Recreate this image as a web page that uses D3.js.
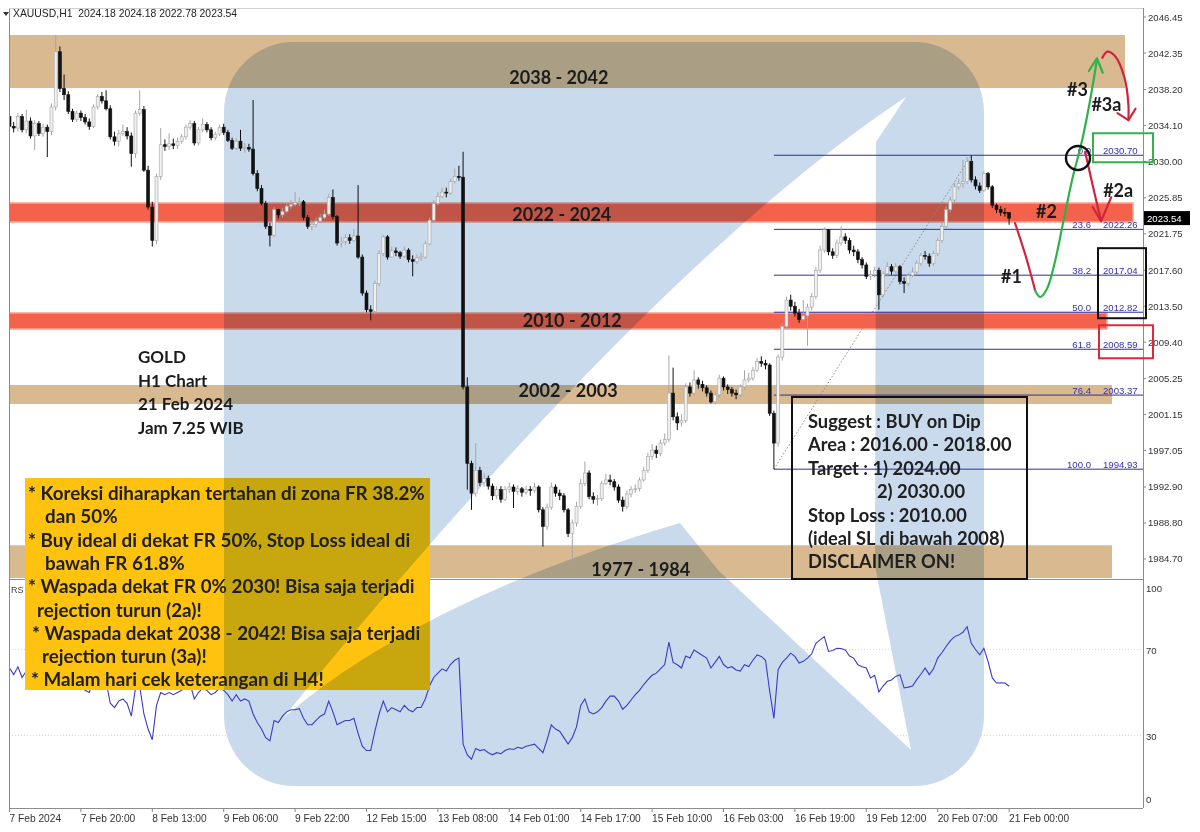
<!DOCTYPE html>
<html>
<head>
<meta charset="utf-8">
<title>XAUUSD H1</title>
<script src="https://cdn.jsdelivr.net/npm/d3@7/dist/d3.min.js"></script>
<style>
  html, body { margin: 0; padding: 0; background: #fff; }
  svg { display: block; }
  text { white-space: pre; }
</style>
</head>
<body>
<svg id="chart" width="1200" height="832"></svg>
<script>
// ---- values (H1 bars, 7 Feb 03:00 .. 21 Feb) ----
const firstOpen = 2035.1;
const closes = [
  2034.0,2033.8,2035.1,2033.6,2034.6,2032.9,2034.3,2033.2,2033.9,2033.4,
  2036.2,2042.5,2038.3,2037.6,2035.7,2034.8,2035.5,2035.0,2034.5,2034.0,
  2036.2,2037.4,2036.9,2036.0,2032.8,2032.3,2033.2,2033.4,2032.9,2030.9,
  2035.5,2035.9,2029.0,2024.8,2021.0,2028.3,2031.9,2031.7,2032.0,2031.8,
  2032.3,2032.8,2033.9,2034.3,2032.1,2033.6,2034.2,2033.6,2032.7,2033.1,
  2033.9,2033.3,2032.4,2031.5,2032.3,2031.5,2031.6,2031.4,2028.6,2026.9,
  2025.2,2022.6,2021.6,2024.5,2023.9,2024.3,2024.9,2025.1,2025.3,2025.4,
  2023.6,2022.6,2022.8,2023.2,2023.6,2024.0,2025.9,2023.7,2020.7,2020.9,
  2021.3,2021.0,2021.5,2019.1,2015.0,2013.1,2012.9,2016.1,2019.5,2021.4,
  2019.1,2019.8,2019.6,2019.2,2019.9,2018.8,2018.6,2019.0,2019.1,2020.6,
  2023.3,2025.2,2026.0,2026.5,2026.4,2027.7,2028.3,2028.2,2004.3,1995.6,
  1992.2,1994.8,1993.4,1993.9,1993.0,1991.9,1992.6,1991.5,1992.6,1992.9,
  1992.4,1992.7,1992.3,1992.6,1992.5,1992.9,1990.3,1988.4,1990.6,1992.9,
  1992.2,1991.9,1990.3,1987.6,1988.8,1990.7,1993.3,1994.5,1991.8,1991.5,
  1991.6,1993.3,1993.7,1993.5,1992.9,1991.4,1990.7,1992.1,1992.6,1992.7,
  1993.7,1994.8,1996.4,1997.1,1996.7,1997.9,1998.3,2003.6,2000.9,2000.2,
  2000.5,2004.3,2003.6,2005.1,2004.6,2004.2,2003.6,2002.6,2003.4,2005.3,
  2004.3,2004.0,2003.6,2003.4,2004.3,2005.1,2005.3,2006.2,2007.2,2007.0,
  2006.8,2001.3,1997.9,2007.7,2011.2,2014.2,2013.5,2012.7,2012.0,2012.4,
  2013.4,2014.6,2017.6,2019.9,2022.2,2019.7,2019.3,2020.7,2021.4,2021.0,
  2019.9,2019.7,2018.8,2018.2,2016.9,2017.1,2017.6,2014.8,2017.2,2018.0,
  2017.5,2018.0,2016.3,2016.1,2017.0,2017.4,2018.4,2019.3,2019.2,2018.4,
  2019.5,2021.0,2022.6,2024.5,2025.6,2027.1,2027.5,2027.7,2030.0,2027.9,
  2027.2,2026.7,2028.6,2027.1,2025.0,2024.5,2024.2,2024.18,2023.54
];
const highs = [
  2035.4,2034.5,2035.5,2035.4,2035.9,2035.0,2034.7,2034.6,2034.3,2034.2,
  2036.6,2044.4,2043.1,2039.9,2038.0,2036.0,2035.8,2035.8,2035.4,2034.9,
  2036.5,2037.7,2037.9,2038.1,2036.4,2033.4,2033.6,2034.2,2033.9,2033.3,
  2035.8,2038.1,2036.3,2029.5,2025.4,2028.6,2033.8,2032.5,2033.2,2032.6,
  2032.7,2033.1,2034.2,2034.7,2034.6,2033.9,2034.9,2034.5,2033.9,2033.4,
  2034.2,2034.3,2033.6,2032.7,2032.6,2033.6,2032.1,2032.0,2037.0,2029.0,
  2027.3,2025.5,2023.0,2024.8,2024.6,2024.7,2025.3,2025.6,2026.5,2025.9,
  2025.6,2023.9,2023.3,2023.6,2024.0,2024.5,2026.3,2026.8,2023.9,2021.4,
  2021.7,2021.7,2022.3,2027.3,2019.4,2015.3,2013.6,2016.4,2019.9,2021.6,
  2021.6,2020.3,2020.2,2019.8,2020.3,2020.1,2019.3,2019.4,2019.6,2020.9,
  2023.6,2025.6,2026.5,2027.0,2027.0,2028.0,2029.2,2029.5,2031.1,2005.4,
  1995.9,1997.9,1995.2,1994.5,1994.2,1993.3,1993.0,1993.0,1993.0,1993.4,
  1993.2,1993.1,1992.9,1993.0,1993.0,1993.4,1993.1,1990.6,1991.0,1993.4,
  1993.2,1992.6,1992.2,1990.5,1989.2,1991.2,1993.8,1995.8,1994.8,1992.3,
  1992.0,1993.6,1994.4,1994.3,1993.8,1993.2,1991.8,1992.5,1993.0,1993.2,
  1994.0,1995.2,1996.8,1997.8,1997.6,1998.3,1999.0,2007.9,2006.5,2001.4,
  2001.2,2004.7,2004.8,2006.2,2005.4,2005.0,2004.5,2003.9,2003.8,2005.7,
  2005.5,2004.6,2004.3,2004.0,2004.6,2006.2,2005.9,2006.6,2007.6,2007.8,
  2007.4,2007.0,2001.6,2008.0,2011.6,2014.6,2014.8,2014.0,2013.2,2014.2,
  2013.8,2015.0,2018.0,2020.4,2022.5,2022.3,2020.1,2021.1,2022.6,2021.8,
  2021.3,2020.4,2020.0,2019.1,2018.5,2017.6,2018.0,2017.9,2017.5,2018.5,
  2018.3,2018.4,2018.2,2016.8,2017.3,2017.9,2018.7,2019.6,2019.8,2019.5,
  2019.8,2021.3,2023.0,2024.9,2026.0,2027.5,2028.0,2030.2,2030.5,2030.7,
  2028.3,2027.6,2028.9,2028.8,2027.3,2025.2,2024.9,2024.7,2024.18
];
const lows = [
  2033.7,2033.3,2033.4,2033.3,2033.2,2032.6,2031.3,2032.9,2032.8,2030.5,
  2033.0,2035.8,2037.9,2037.0,2035.4,2034.5,2034.5,2034.6,2034.2,2033.6,
  2033.8,2035.9,2036.6,2035.8,2032.5,2031.8,2031.7,2032.9,2032.5,2029.4,
  2030.4,2035.2,2028.8,2024.5,2020.3,2020.6,2027.9,2031.2,2031.3,2031.4,
  2031.4,2032.0,2032.5,2033.6,2031.8,2031.8,2033.3,2033.3,2032.4,2032.4,
  2032.9,2033.0,2032.2,2031.3,2031.3,2031.2,2031.0,2031.1,2028.4,2026.6,
  2025.0,2022.3,2020.3,2021.4,2023.5,2023.6,2024.1,2024.6,2024.9,2024.9,
  2023.3,2022.3,2022.1,2022.5,2023.0,2023.4,2023.8,2023.4,2020.4,2020.2,
  2020.5,2020.6,2020.8,2018.9,2014.7,2012.8,2011.9,2012.6,2015.8,2019.2,
  2018.8,2019.0,2019.2,2018.9,2019.0,2018.5,2016.9,2018.3,2018.7,2018.9,
  2020.4,2023.0,2025.0,2025.8,2025.9,2026.2,2027.5,2027.8,2004.0,1992.6,
  1990.3,1991.8,1993.0,1992.9,1992.6,1991.4,1991.5,1991.1,1991.3,1992.2,
  1990.5,1992.0,1991.8,1992.0,1991.9,1992.2,1990.0,1986.1,1988.0,1990.3,
  1991.8,1991.4,1990.0,1987.2,1984.4,1988.4,1990.4,1993.0,1991.5,1991.0,
  1990.8,1991.3,1993.1,1993.1,1992.5,1991.1,1990.1,1990.4,1991.7,1992.2,
  1992.4,1993.5,1994.5,1996.0,1996.2,1996.4,1997.6,1998.0,2000.5,1999.4,
  1999.8,2000.2,2003.2,2003.3,2004.1,2003.8,2003.2,2002.4,2002.3,2003.1,
  2003.9,2003.5,2003.2,2002.9,2003.1,2004.0,2004.8,2005.0,2006.0,2006.6,
  2006.3,2001.0,1994.93,1997.5,2007.3,2010.9,2013.0,2012.3,2011.6,2011.8,
  2009.0,2013.0,2014.3,2017.3,2019.6,2019.3,2018.9,2019.0,2020.4,2020.6,
  2019.5,2019.2,2018.4,2017.8,2016.6,2016.5,2016.8,2013.1,2014.5,2016.9,
  2017.1,2017.2,2016.0,2015.0,2015.8,2016.8,2017.1,2018.1,2018.8,2018.0,
  2018.1,2019.2,2020.7,2022.3,2024.2,2025.3,2026.8,2027.0,2027.4,2027.6,
  2026.8,2026.4,2026.5,2026.8,2024.7,2024.1,2023.8,2023.7,2022.78
];
const rsi = [
  61.4,58.3,62,57,60,54,58,55,57,55,
  64,74,62,59,55,53,55,53,51,50,
  56,58,57,55,45,43,46,47,45,39,
  52,53,40,33,28,44,50,49,50,49,
  50,51,53,54,47,50,52,51,49,50,
  52,51,49,46,49,46,47,46,40,36,
  33,29,27.5,37,36,39,41,42,42,42.5,
  38,35,35,37,39,40,46,41,35,36,
  37,37,38,31,25,23,23,32,40,46,
  41,43,42,41,44,42,41,43,43,47,
  53,57,59,61,60,63,65,66,26,21,
  19,24,23,23.5,22,21,22,21.5,23,23.8,
  23.5,24.5,24,25,25.5,26,24,22,28,35,
  33,32,29,26,29,34,44,47,41,40,
  41,43,46,48.3,48.3,46,42.2,44,46.5,49,
  51,53.7,56,58,59,61,63,73.4,64,62.9,
  61.4,67,66,69.8,68.5,67.2,66,61.4,64,66.8,
  63,61.4,62,60.5,60,62.9,62.1,65,67.5,66.8,
  65,50.6,38,60.6,64,66,68.3,66.8,63.7,64.5,
  66,68,72.9,74.5,76,69.1,69.5,70.6,70.5,69.8,
  67,66,62.9,62,61.4,56.8,58,50.3,53,55.2,
  55.8,57.5,58.3,52.1,52.5,53,56,58.5,61.4,58.3,
  61,66,68.5,71.4,74,76,76.7,78,80.6,72.9,
  70,67.5,70.6,64.4,56.8,54.4,54.5,54.4,52.9
];

const timeLabels = ["7 Feb 2024","7 Feb 20:00","8 Feb 13:00","9 Feb 06:00","9 Feb 22:00",
  "12 Feb 15:00","13 Feb 08:00","14 Feb 01:00","14 Feb 17:00","15 Feb 10:00",
  "16 Feb 03:00","16 Feb 19:00","19 Feb 12:00","20 Feb 07:00","21 Feb 00:00"];
const timeLabelBars = [0,17,34,51,68,85,102,119,136,153,170,187,204,221,238];
const priceTicks = [2046.45,2042.35,2038.20,2034.10,2030.00,2025.85,2021.75,2017.60,
  2013.50,2009.40,2005.25,2001.15,1997.05,1992.90,1988.80,1984.70];
const rsiTicks = [100, 70, 30, 0];

const zoneNames  = ["2038 - 2042","2022 - 2024","2010 - 2012","2002 - 2003","1977 - 1984"];
const zoneTop    = [2044.40, 2025.26, 2012.73, 2004.52, 1986.26];
const zoneBottom = [2038.36, 2023.10, 2010.90, 2002.36, 1982.53];
const zoneEndBar = [265.6, 267.5, 261.3, 262.5, 262.5];
const zoneKind   = ["tan","red","red","tan","tan"];
const zoneLabelBar = [130.8, 131.5, 134, 133, 150.3];
const zoneLabelPrice = [2038.82, 2023.21, 2011.13, 2003.16, 1982.80];

const fibHigh = 2030.70, fibLow = 1994.93;
const fibLevels = [0, 23.6, 38.2, 50, 61.8, 76.4, 100];
const fibStartBar = 182, fibEndBar = 229;

const chartInfo = ["GOLD","H1 Chart","21 Feb 2024","Jam 7.25 WIB"];
const notes = ["* Koreksi diharapkan tertahan di zona FR 38.2%","dan 50%",
  "* Buy ideal di dekat FR 50%, Stop Loss ideal di","bawah FR 61.8%",
  "* Waspada dekat FR 0% 2030! Bisa saja terjadi","rejection turun (2a)!",
  "* Waspada dekat 2038 - 2042! Bisa saja terjadi","rejection turun (3a)!",
  "* Malam hari cek keterangan di H4!"];
const noteIndent = [3, 20, 3, 20, 3, 12, 7, 17, 6];
const suggest = ["Suggest : BUY on Dip","Area : 2016.00 - 2018.00","Target : 1) 2024.00",
  "2) 2030.00","Stop Loss : 2010.00","(ideal SL di bawah 2008)","DISCLAIMER ON!"];

// hand drawn scenario paths, in [bar, price]
const pathDown1 = [[239.4,2022.98],[241.9,2019.3],[244.2,2015.3]];
const pathUp3 = [[244.2,2015.3],[245.4,2014.55],[247.0,2015.46],[248.9,2018.54],[250.8,2022.87],
  [253.0,2027.88],[255.4,2032.44],[257.3,2037.0],[258.9,2041.55]];
const pathDown2a = [[256.1,2031.1],[257.6,2027.9],[259.9,2023.2]];
const pathDown3a = [[260.2,2041.8],[261.4,2042.5],[263.2,2042.0],[265.5,2039.5],[266.4,2036.5],[266.4,2034.7]];

// ---- scales ----
const svg = d3.select("#chart");
const L = 9, R = 1143, pTop = 8, pBot = 578, rTop = 580, rBot = 808;
const x = d3.scaleLinear().domain([0, 100]).range([9.5, 429.5]);
const y = d3.scaleLinear().domain([1982.53, 2047.48]).range([pBot, pTop]);
const yr = d3.scaleLinear().domain([0, 100]).range([800, 585]);

const candles = closes.map((c, i) => ({
  i, o: i === 0 ? firstOpen : closes[i - 1], h: highs[i], l: lows[i], c
}));

const defs = svg.append("defs");
defs.append("clipPath").attr("id", "pclip").append("rect")
  .attr("x", L).attr("y", pTop).attr("width", R - L).attr("height", pBot - pTop);
defs.append("clipPath").attr("id", "rclip").append("rect")
  .attr("x", L).attr("y", rTop).attr("width", R - L).attr("height", rBot - rTop);

svg.append("rect").attr("width", 1200).attr("height", 832).attr("fill", "#fff");

// watermark logo behind the chart
function watermark(g) {
  g.append("rect").attr("x", 224).attr("y", 42).attr("width", 760).attr("height", 744)
    .attr("rx", 70).attr("fill", "#c8daec");
  g.append("path")
    .attr("d", "M283,718 Q658,260 906,97 L876,142 L875,566 L911,750 L718,570 L680,523 Q420,600 283,718 Z")
    .attr("fill", "#fff");
}
watermark(svg.append("g"));

// RSI levels
svg.append("g").selectAll("line").data([70, 30]).join("line")
  .attr("x1", L).attr("x2", R).attr("y1", d => yr(d)).attr("y2", d => yr(d))
  .attr("stroke", "#d8d8d8").attr("stroke-dasharray", "1,2");

// support / resistance zones
const zoneFill = { tan: "#d9b98f", red: "#f5624c" };
const zg = svg.append("g").attr("clip-path", "url(#pclip)").style("mix-blend-mode", "multiply");
zoneNames.forEach((n, k) => {
  zg.append("rect")
    .attr("x", L).attr("width", x(zoneEndBar[k]) - L)
    .attr("y", y(zoneTop[k])).attr("height", y(zoneBottom[k]) - y(zoneTop[k]))
    .attr("fill", zoneFill[zoneKind[k]])
    .attr("stroke", zoneKind[k] === "red" ? "#f9a392" : "none").attr("stroke-width", 1.5);
});

// fibonacci
const fibPrice = lv => fibHigh - (fibHigh - fibLow) * lv / 100;
const fg = svg.append("g").attr("clip-path", "url(#pclip)");
fg.append("line")
  .attr("x1", x(fibStartBar)).attr("y1", y(fibLow)).attr("x2", x(fibEndBar)).attr("y2", y(fibHigh))
  .attr("stroke", "#8a8a8a").attr("stroke-dasharray", "1.5,2");
fg.selectAll("line.fib").data(fibLevels).join("line").attr("class", "fib")
  .attr("x1", x(fibStartBar)).attr("x2", R)
  .attr("y1", d => y(fibPrice(d))).attr("y2", d => y(fibPrice(d)))
  .attr("stroke", "#2e2ea0").attr("stroke-width", 1);

// candles
const cg = svg.append("g").attr("clip-path", "url(#pclip)");
const cand = cg.selectAll("g").data(candles).join("g");
cand.append("line")
  .attr("x1", d => x(d.i)).attr("x2", d => x(d.i))
  .attr("y1", d => y(d.h)).attr("y2", d => y(d.l))
  .attr("stroke", d => d.c >= d.o ? "#a6a6a6" : "#111").attr("stroke-width", 1);
cand.append("rect")
  .attr("x", d => x(d.i) - 1.5).attr("width", 3)
  .attr("y", d => y(Math.max(d.o, d.c)))
  .attr("height", d => Math.max(1, Math.abs(y(d.o) - y(d.c))))
  .attr("fill", d => d.c >= d.o ? "#efefef" : "#111")
  .attr("stroke", d => d.c >= d.o ? "#a6a6a6" : "#111").attr("stroke-width", 0.6);

// RSI line
svg.append("path").datum(rsi).attr("clip-path", "url(#rclip)")
  .attr("d", d3.line().x((d, i) => x(i)).y(d => yr(d)))
  .attr("fill", "none").attr("stroke", "#3b3bc4").attr("stroke-width", 1.1);
svg.append("text").attr("x", 11).attr("y", 593).attr("font-family", "Liberation Sans")
  .attr("font-size", 9).attr("fill", "#444").text("RS");

// frame and axes
const frame = svg.append("g").attr("stroke", "#8c8c8c").attr("stroke-width", 1).attr("shape-rendering", "crispEdges");
frame.append("line").attr("x1", L).attr("x2", L).attr("y1", pTop).attr("y2", rBot);
frame.append("line").attr("x1", R).attr("x2", R).attr("y1", pTop).attr("y2", rBot);
frame.append("line").attr("x1", L).attr("x2", R).attr("y1", pTop).attr("y2", pTop).attr("stroke", "#d0d0d0");
frame.append("line").attr("x1", L).attr("x2", R).attr("y1", pBot + 1).attr("y2", pBot + 1);
frame.append("line").attr("x1", L).attr("x2", R).attr("y1", rBot).attr("y2", rBot);

const axFont = "Liberation Sans, Arial, sans-serif";
const pa = svg.append("g");
pa.selectAll("line").data(priceTicks).join("line")
  .attr("x1", R).attr("x2", R + 3).attr("y1", d => y(d)).attr("y2", d => y(d)).attr("stroke", "#888");
pa.selectAll("text").data(priceTicks).join("text")
  .attr("x", R + 5).attr("y", d => y(d) + 3.5)
  .attr("font-family", axFont).attr("font-size", 9.6).attr("fill", "#333")
  .text(d => d.toFixed(2));
const lastC = closes[closes.length - 1];
pa.append("rect").attr("x", R + 1).attr("y", y(lastC) - 7).attr("width", 46).attr("height", 14).attr("fill", "#000");
pa.append("text").attr("x", R + 4).attr("y", y(lastC) + 3.5).attr("font-family", axFont)
  .attr("font-size", 9.6).attr("fill", "#fff").text(lastC.toFixed(2));

const ra = svg.append("g");
ra.selectAll("text").data(rsiTicks).join("text")
  .attr("x", R + 3).attr("y", d => d === 100 ? yr(d) + 7 : d === 0 ? yr(d) + 3 : yr(d) + 4)
  .attr("font-family", axFont).attr("font-size", 9.6).attr("fill", "#333").text(d => d);

const ta = svg.append("g");
ta.selectAll("line").data(timeLabelBars).join("line")
  .attr("x1", d => x(d)).attr("x2", d => x(d)).attr("y1", rBot).attr("y2", rBot + 4).attr("stroke", "#888");
ta.selectAll("text").data(timeLabels).join("text")
  .attr("x", (d, k) => x(timeLabelBars[k])).attr("y", 822)
  .attr("font-family", axFont).attr("font-size", 10.2).attr("fill", "#333").text(d => d);

// header
svg.append("path").attr("d", "M3,12 L9,12 L6,16 Z").attr("fill", "#333");
svg.append("text").attr("x", 13).attr("y", 17).attr("font-family", axFont).attr("font-size", 10.4)
  .attr("fill", "#222").text("XAUUSD,H1  2024.18 2024.18 2022.78 2023.54");

// fib labels
const fl = svg.append("g").attr("font-family", axFont).attr("font-size", 9.6).attr("fill", "#3333a8");
fl.selectAll("text.lv").data(fibLevels).join("text").attr("class", "lv")
  .attr("x", 1091).attr("y", d => y(fibPrice(d)) - 1.5).attr("text-anchor", "end")
  .text(d => d.toFixed(1));
fl.selectAll("text.pr").data(fibLevels).join("text").attr("class", "pr")
  .attr("x", 1103).attr("y", d => y(fibPrice(d)) - 1.5)
  .text(d => fibPrice(d).toFixed(2));

// zone labels
const boldFont = "Lato, 'Open Sans', sans-serif";
svg.append("g").selectAll("text").data(zoneNames).join("text")
  .attr("x", (d, k) => x(zoneLabelBar[k]))
  .attr("y", (d, k) => y(zoneLabelPrice[k]))
  .attr("text-anchor", "middle").attr("font-family", boldFont).attr("font-weight", 700)
  .attr("font-size", 18).attr("fill", "#1c1c1c").text(d => d);

// chart info
svg.append("g").selectAll("text").data(chartInfo).join("text")
  .attr("x", 138).attr("y", (d, k) => 363 + k * 23.5)
  .attr("font-family", boldFont).attr("font-weight", 700).attr("font-size", 17)
  .attr("fill", "#1c1c1c").text(d => d);

// yellow notes box (opaque, tinted where the logo lies under it)
defs.append("clipPath").attr("id", "yclip").append("rect")
  .attr("x", 25).attr("y", 478).attr("width", 405).attr("height", 212);
svg.append("rect").attr("x", 25).attr("y", 478).attr("width", 405).attr("height", 212).attr("fill", "#ffc20e");
watermark(svg.append("g").attr("clip-path", "url(#yclip)").style("mix-blend-mode", "multiply"));
svg.append("g").selectAll("text").data(notes).join("text")
  .attr("x", (d, k) => 25 + noteIndent[k]).attr("y", (d, k) => 500 + k * 23.3)
  .attr("font-family", boldFont).attr("font-weight", 700).attr("font-size", 18.8)
  .attr("fill", "#202020").text(d => d);

// suggestion box
svg.append("rect").attr("x", 792).attr("y", 397).attr("width", 235).attr("height", 182)
  .attr("fill", "none").attr("stroke", "#111").attr("stroke-width", 2);
svg.append("g").selectAll("text").data(suggest).join("text")
  .attr("x", (d, k) => k === 3 ? 877 : 808).attr("y", (d, k) => 428 + k * 23.4)
  .attr("font-family", boldFont).attr("font-weight", 700).attr("font-size", 18.3)
  .attr("fill", "#202020").text(d => d);

// boxes around fib labels
const boxes = [
  { top: y(fibPrice(0)) - 22, bot: y(fibPrice(0)) + 7, x1: 1093, x2: 1153, c: "#33b24a" },
  { top: y(fibPrice(38.2)) - 27, bot: y(fibPrice(50)) + 6, x1: 1098, x2: 1146, c: "#111" },
  { top: y(fibPrice(61.8)) - 24, bot: y(fibPrice(61.8)) + 9, x1: 1099, x2: 1153, c: "#e0283a" }
];
svg.append("g").selectAll("rect").data(boxes).join("rect")
  .attr("x", d => d.x1).attr("y", d => d.top).attr("width", d => d.x2 - d.x1).attr("height", d => d.bot - d.top)
  .attr("fill", "none").attr("stroke", d => d.c).attr("stroke-width", 2);

// scenario arrows
const pline = d3.line().x(d => x(d[0])).y(d => y(d[1])).curve(d3.curveCatmullRom);
const sline = d3.line().x(d => x(d[0])).y(d => y(d[1]));
const ag = svg.append("g").attr("fill", "none").attr("stroke-width", 2.2).attr("stroke-linecap", "round").attr("stroke-linejoin", "round");
ag.append("path").attr("d", pline(pathDown1)).attr("stroke", "#d0243c");
ag.append("path").attr("d", pline(pathUp3)).attr("stroke", "#2fb24a");
ag.append("path").attr("d", sline([[257.0, 2040.3], [258.9, 2041.75], [260.3, 2040.1]])).attr("stroke", "#2fb24a");
ag.append("path").attr("d", pline(pathDown2a)).attr("stroke", "#d0243c");
ag.append("path").attr("d", sline([[257.9, 2024.8], [259.9, 2023.2], [262.3, 2025.9]])).attr("stroke", "#d0243c");
ag.append("path").attr("d", pline(pathDown3a)).attr("stroke", "#d0243c");
ag.append("path").attr("d", sline([[263.8, 2035.5], [266.4, 2034.7], [268.1, 2036.0]])).attr("stroke", "#d0243c");
ag.append("circle").attr("cx", x(254.4)).attr("cy", y(2030.39)).attr("r", 12)
  .attr("stroke", "#111").attr("stroke-width", 2.4);

const tags = [["#3", 251.8, 2037.45], ["#3a", 257.6, 2035.7], ["#2a", 260.4, 2025.9], ["#2", 244.4, 2023.6], ["#1", 236.1, 2016.1]];
svg.append("g").selectAll("text").data(tags).join("text")
  .attr("x", d => x(d[1])).attr("y", d => y(d[2]))
  .attr("font-family", boldFont).attr("font-weight", 700).attr("font-size", 18)
  .attr("fill", "#1c1c1c").text(d => d[0]);
</script>
</body>
</html>
